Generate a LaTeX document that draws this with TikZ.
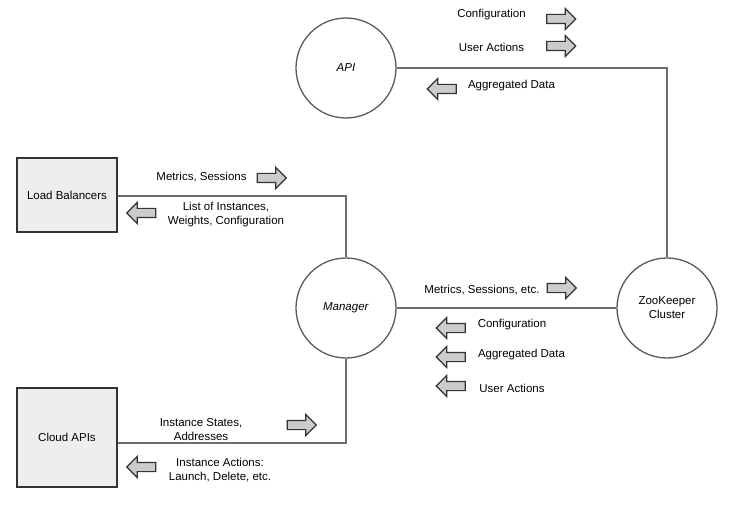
\documentclass[tikz,border=0pt]{standalone}
\usepackage{fontspec}
\setmainfont{Liberation Sans}
\usetikzlibrary{shapes.arrows}

\definecolor{wiregray}{HTML}{6E6E6E}
\definecolor{rimgray}{HTML}{5A5A5A}
\definecolor{boxfill}{HTML}{EEEEEE}
\definecolor{tipfill}{HTML}{CCCCCC}
\definecolor{tipedge}{HTML}{333333}

\tikzset{
  wire/.style={draw=wiregray, line width=2pt},
  service/.style={circle, draw=rimgray, line width=1.3pt, fill=white,
    minimum size=100pt, inner sep=0pt, align=center},
  system/.style={rectangle, draw=tipedge, line width=1.4pt, fill=boxfill,
    minimum width=100pt, inner sep=0pt},
  dataout/.style={single arrow, draw=tipedge, fill=tipfill, line width=1.2pt,
    minimum height=29pt, minimum width=20pt, single arrow head extend=6pt,
    single arrow head indent=0pt, inner xsep=0pt, inner ysep=4pt},
  datain/.style={dataout, shape border rotate=180},
  msg/.style={align=center, inner sep=0pt}
}

\begin{document}
\begin{tikzpicture}[x=1pt, y=-1pt, font=\fontsize{11.5}{14}\selectfont]
        \useasboundingbox (0,0) rectangle (737,508);

        % Dienste (Kreise)
        \node[service] (api) at (346,68) {\textit{API}};
        \node[service] (manager) at (346,308) {\textit{Manager}};
        \node[service] (zk) at (667,308) {ZooKeeper\\Cluster};

        % externe Systeme (Kaesten)
        \node[system, minimum height=74pt] (lb) at (67,195) {Load Balancers};
        \node[system, minimum height=99pt] (cloud) at (67,437.5) {Cloud APIs};

        % Verbindungen
        \coordinate (cloud_port) at ([yshift=-5.5pt]cloud.east);
        \draw[wire] (api.east) -| (zk.north);
        \draw[wire] (manager.east) -- (zk.west);
        \draw[wire] ([yshift=-1pt]lb.east) -| (manager.north);
        \draw[wire] (cloud_port) -| (manager.south);

        % API <-> ZooKeeper
        \node[msg] (cfg_up) at (491.5,15) {Configuration};
        \node[dataout] (cfg_up_tip) at (559,19) {};
        \node[msg] (ua_up) at (491.5,47) {User Actions};
        \node[dataout] (ua_up_tip) at (559,46) {};
        \node[datain] (agg_up_tip) at (444,89) {};
        \node[msg] (agg_up) at (511.5,86) {Aggregated Data};

        % Load Balancers <-> Manager
        \node[msg] (lb_out) at (201.5,177) {Metrics, Sessions};
        \node[dataout] (lb_out_tip) at (269.5,178) {};
        \node[datain] (lb_in_tip) at (143.5,213) {};
        \node[msg] (lb_in) at (226,215) {List of Instances,\\Weights, Configuration};

        % Manager <-> ZooKeeper
        \node[msg] (zk_out) at (482,290) {Metrics, Sessions, etc.};
        \node[dataout] (zk_out_tip) at (559.5,288) {};
        \node[datain] (cfg_dn_tip) at (453,328) {};
        \node[msg] (cfg_dn) at (512,325) {Configuration};
        \node[datain] (agg_dn_tip) at (453,357) {};
        \node[msg] (agg_dn) at (521.5,355) {Aggregated Data};
        \node[datain] (ua_dn_tip) at (453,386) {};
        \node[msg] (ua_dn) at (512,388) {User Actions};

        % Cloud APIs <-> Manager
        \node[msg] (cloud_out) at (201,430) {Instance States,\\Addresses};
        \node[dataout] (cloud_out_tip) at (299.5,425) {};
        \node[datain] (cloud_in_tip) at (143.5,467) {};
        \node[msg] (cloud_in) at (220,470) {Instance Actions:\\Launch, Delete, etc.};
    \end{tikzpicture}
\end{document}
